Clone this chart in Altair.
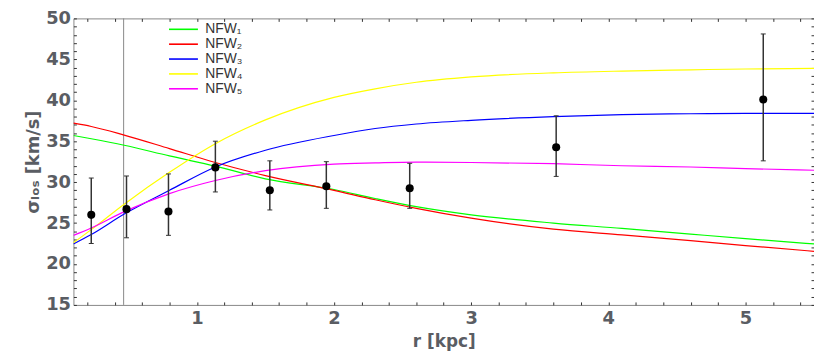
import altair as alt
import pandas as pd

# ---- data ----
r_curve = [0.1, 0.23, 0.47, 0.8, 1.135, 1.5, 2.0, 2.3, 2.6, 3.0, 3.6, 4.1, 4.6, 5.0, 5.5]
nfw1 = [35.7, 35.3, 34.5, 33.2, 31.95, 30.4, 29.1, 28.0, 27.0, 26.0, 25.0, 24.35, 23.65, 23.1, 22.45]
nfw2 = [37.2, 36.8, 35.75, 34.1, 32.4, 30.8, 29.0, 27.85, 26.8, 25.6, 24.25, 23.55, 22.85, 22.25, 21.55]
nfw3 = [22.45, 23.6, 26.1, 29.0, 31.85, 33.9, 35.7, 36.55, 37.1, 37.55, 38.0, 38.25, 38.35, 38.4, 38.4]
nfw4 = [22.6, 24.2, 27.3, 31.2, 34.7, 37.6, 40.35, 41.4, 42.2, 42.85, 43.35, 43.57, 43.72, 43.82, 43.9]
nfw5 = [23.5, 24.4, 26.4, 28.6, 30.2, 31.4, 32.2, 32.35, 32.45, 32.4, 32.25, 32.0, 31.85, 31.65, 31.45]

series_names = ["NFW₁", "NFW₂", "NFW₃", "NFW₄", "NFW₅"]
series_colors = ["#00ff00", "#ff0000", "#0000ff", "#ffff00", "#ff00ff"]

r_obs = [0.23, 0.487, 0.793, 1.135, 1.532, 1.944, 2.552, 3.62, 5.13]
sigma_obs = [26.0, 26.7, 26.4, 31.8, 29.0, 29.5, 29.25, 34.25, 40.1]
sigma_lo = [22.5, 23.2, 23.5, 28.8, 26.6, 26.8, 26.8, 30.7, 32.6]
sigma_hi = [30.5, 30.75, 31.0, 35.0, 32.6, 32.5, 32.3, 38.1, 48.1]

r_vline = [0.466]

x_tick_values = [0.2, 0.4, 0.6, 0.8, 1, 1.2, 1.4, 1.6, 1.8, 2, 2.2, 2.4, 2.6, 2.8, 3,
                 3.2, 3.4, 3.6, 3.8, 4, 4.2, 4.4, 4.6, 4.8, 5, 5.2, 5.4]
y_tick_values = [15, 16, 17, 18, 19, 20, 21, 22, 23, 24, 25, 26, 27, 28, 29, 30, 31, 32,
                 33, 34, 35, 36, 37, 38, 39, 40, 41, 42, 43, 44, 45, 46, 47, 48, 49, 50]

# ---- tables ----
rows = []
for name, vals in zip(series_names, [nfw1, nfw2, nfw3, nfw4, nfw5]):
    for r, s in zip(r_curve, vals):
        rows.append({"r": r, "sigma": s, "model": name})
curve_df = pd.DataFrame(rows)

obs_df = pd.DataFrame({"r": r_obs, "sigma": sigma_obs, "lo": sigma_lo, "hi": sigma_hi})
vline_df = pd.DataFrame({"r": r_vline})

# ---- scales / axes ----
xscale = alt.Scale(domain=[0.1, 5.5], nice=False, zero=False)
yscale = alt.Scale(domain=[15, 50], nice=False, zero=False)

GRAY = "#5a5d63"
TICK = "#333333"
inward = {"expr": "-3"}
LABEL_FONT = "DejaVu Sans"

x_bottom = alt.Axis(
    values=x_tick_values,
    labelExpr="datum.value % 1 === 0 ? format(datum.value, 'd') : ''",
    tickSize=inward, tickColor=TICK, tickWidth=1, domain=False, grid=False,
    labelOverlap=False, labelFlush=False,
    labelFont=LABEL_FONT, labelFontSize=18, labelFontWeight="bold", labelColor=GRAY,
    labelPadding=8,
    title="r [kpc]", titleFont=LABEL_FONT, titleFontSize=17, titleFontWeight="bold",
    titleColor=GRAY, titlePadding=6,
)
y_left = alt.Axis(
    values=y_tick_values,
    labelExpr="datum.value % 5 === 0 ? format(datum.value, 'd') : ''",
    tickSize=inward, tickColor=TICK, tickWidth=1, domain=False, grid=False,
    labelOverlap=False, labelFlush=False,
    labelFont=LABEL_FONT, labelFontSize=18, labelFontWeight="bold", labelColor=GRAY,
    labelPadding=6,
    title="σₗₒₛ [km/s]", titleFont=LABEL_FONT, titleFontSize=18, titleFontWeight="bold",
    titleColor=GRAY, titlePadding=3,
)
x_top = alt.Axis(
    orient="top", values=x_tick_values, labels=False, title=None,
    tickSize=inward, tickColor=TICK, tickWidth=1, domain=False, grid=False,
)
y_right = alt.Axis(
    orient="right", values=y_tick_values, labels=False, title=None,
    tickSize=inward, tickColor=TICK, tickWidth=1, domain=False, grid=False,
)

# ---- layers ----
lines = alt.Chart(curve_df).mark_line(strokeWidth=1.2, interpolate="monotone", clip=True).encode(
    x=alt.X("r:Q", scale=xscale, axis=x_bottom),
    y=alt.Y("sigma:Q", scale=yscale, axis=y_left),
    color=alt.Color(
        "model:N",
        scale=alt.Scale(domain=series_names, range=series_colors),
        legend=alt.Legend(
            title=None, orient="none", legendX=104, legendY=4,
            symbolType="M-5,0H5", symbolSize=34, symbolStrokeWidth=1.6,
            labelFont="Liberation Sans", labelFontSize=14, labelColor="#333333",
            rowPadding=1, padding=0, labelOffset=15,
        ),
    ),
)

vline = alt.Chart(vline_df).mark_rule(color="#888888", strokeWidth=1).encode(
    x=alt.X("r:Q", scale=xscale, axis=x_top),
)

bars = alt.Chart(obs_df).mark_rule(color="#333333", strokeWidth=1.5).encode(
    x=alt.X("r:Q", scale=xscale, axis=None),
    y=alt.Y("lo:Q", scale=yscale, axis=None),
    y2="hi:Q",
)

caps = alt.Chart(obs_df).transform_fold(["lo", "hi"], as_=["end", "val"]).mark_tick(
    orient="horizontal", size=5, thickness=1, color="#333333", opacity=1
).encode(
    x=alt.X("r:Q", scale=xscale, axis=None),
    y=alt.Y("val:Q", scale=yscale, axis=None),
)

points = alt.Chart(obs_df).mark_circle(size=66, color="black", opacity=1).encode(
    x=alt.X("r:Q", scale=xscale, axis=None),
    y=alt.Y("sigma:Q", scale=yscale, axis=y_right),
)

chart = alt.layer(vline, lines, bars, caps, points).resolve_axis(
    x="independent", y="independent"
).properties(
    width=747, height=289,
    autosize=alt.AutoSizeParams(type="none"),
    padding={"left": 66, "top": 9, "right": 0, "bottom": 46},
).configure_view(
    stroke="#888888", strokeWidth=1
)

chart.save("out.html", embed_options={"renderer": "svg", "actions": False})
